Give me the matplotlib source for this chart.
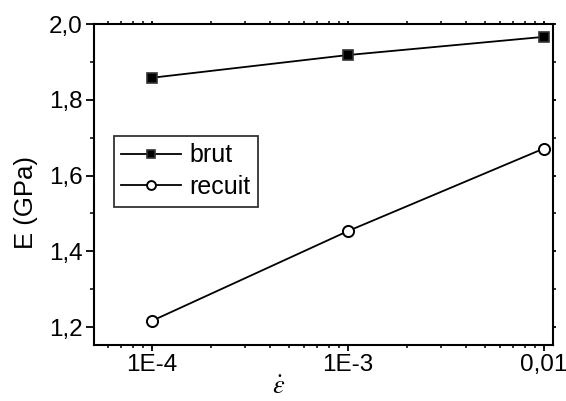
import matplotlib
matplotlib.use("Agg")
import matplotlib.pyplot as plt
from matplotlib.ticker import FixedLocator, LogLocator, NullFormatter, MultipleLocator

plt.rcParams['font.family'] = ['Liberation Sans', 'DejaVu Sans']
plt.rcParams['mathtext.fontset'] = 'stix'

strain_rate = [1e-4, 1e-3, 1e-2]
E_brut = [1.858, 1.918, 1.966]
E_recuit = [1.216, 1.453, 1.671]
xtick_vals = [1e-4, 1e-3, 1e-2]
xtick_labels = ['1E-4', '1E-3', '0,01']
ytick_vals = [1.2, 1.4, 1.6, 1.8, 2.0]
ytick_labels = ['1,2', '1,4', '1,6', '1,8', '2,0']

W, H = 566, 401
L, R, T, B = 94, 552.5, 24, 344.5
fig = plt.figure(figsize=(W/100, H/100), dpi=100)
ax = fig.add_axes([L/W, 1-B/H, (R-L)/W, (B-T)/H])

ax.plot(strain_rate, E_brut, '-', color='black', lw=1.3, marker='s', ms=7.5,
        mfc='black', mec='#333333', mew=1.2, label='brut')
ax.plot(strain_rate, E_recuit, '-', color='black', lw=1.3, marker='o', ms=8,
        mfc='white', mec='black', mew=1.4, label='recuit')

ax.set_xscale('log')
dec = 196.0
ax.set_xlim(10**(-4 - (151.6-L)/dec), 10**(-2 + (R-543.6)/dec))
ax.set_ylim(1.154, 2.0)

ax.xaxis.set_major_locator(FixedLocator(xtick_vals))
ax.set_xticklabels(xtick_labels)
ax.xaxis.set_minor_locator(LogLocator(base=10, subs=range(2, 10)))
ax.xaxis.set_minor_formatter(NullFormatter())
ax.yaxis.set_major_locator(FixedLocator(ytick_vals))
ax.set_yticklabels(ytick_labels)
ax.yaxis.set_minor_locator(MultipleLocator(0.1))

for s in ax.spines.values():
    s.set_linewidth(1.5)

ax.tick_params(axis='both', which='major', labelsize=17.5, width=1.3, direction='out')
ax.tick_params(axis='both', which='minor', width=1.1, direction='out')
ax.tick_params(axis='x', which='major', length=4, pad=3)
ax.tick_params(axis='x', which='minor', length=2.5)
ax.tick_params(axis='y', which='major', length=6, pad=2)
ax.tick_params(axis='y', which='minor', length=3)
ax.tick_params(axis='x', which='both', top=True, labeltop=False)
ax.tick_params(axis='y', which='both', right=True, labelright=False)
for t in ax.xaxis.get_major_ticks() + ax.xaxis.get_minor_ticks():
    t.tick2line.set_markersize(2)
for t in ax.yaxis.get_major_ticks() + ax.yaxis.get_minor_ticks():
    t.tick2line.set_markersize(2)

ax.set_ylabel('E (GPa)', fontsize=18.5)
ax.yaxis.set_label_coords((38 - L)/(R-L), 1 - (203 - T)/(B-T))
fig.text(279/W, 1-399/H, r'$\dot{\varepsilon}$', fontsize=19, ha='center', va='bottom')

leg = ax.legend(loc='upper left', bbox_to_anchor=((114-L)/(R-L), (B-136)/(B-T)),
                fontsize=18, frameon=True, fancybox=False, edgecolor='black',
                handlelength=2.4, handletextpad=0.3, borderpad=0.3, labelspacing=0.3,
                borderaxespad=0, markerscale=0.8)
leg.get_frame().set_linewidth(1.3)

fig.savefig('out.png', dpi=100)
